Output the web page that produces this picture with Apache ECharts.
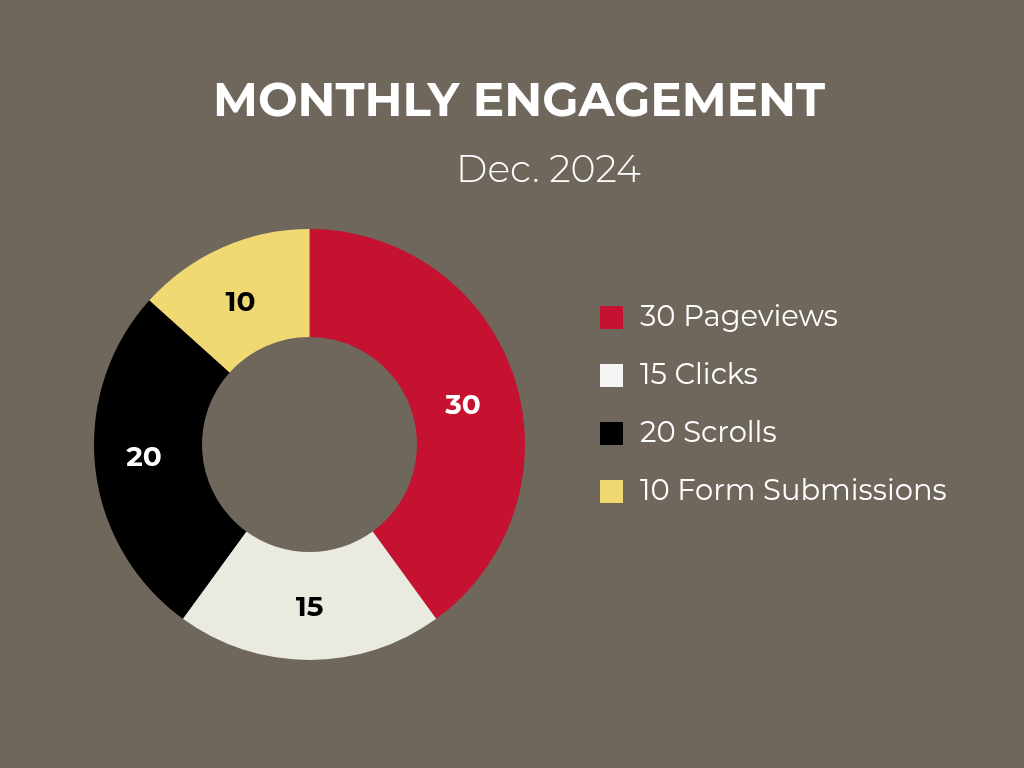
<!DOCTYPE html>
<html>
<head>
<meta charset="utf-8">
<script src="https://cdn.jsdelivr.net/npm/echarts@6/dist/echarts.min.js"></script>
<style>
html,body{margin:0;padding:0;background:#6F675C;}
#chart{width:1024px;height:768px;}
</style>
</head>
<body>
<div id="chart"></div>
<script>
var categories = ['Pageviews', 'Clicks', 'Scrolls', 'Form Submissions'];
var values = [30, 15, 20, 10];
var colors = ['#C41230', '#EBEAE1', '#000000', '#F0D872'];
var legendColors = ['#C41230', '#F5F5F3', '#000000', '#F0D872'];
var labelColors = ['#FFFFFF', '#000000', '#FFFFFF', '#000000'];
var labelOffsets = [[-3, 12], [0, -1], [-2, -4], [-2, 9]];

var chart = echarts.init(document.getElementById('chart'));
var data = categories.map(function (c, i) {
  return {
    name: c, value: values[i],
    itemStyle: { color: colors[i] },
    label: { color: labelColors[i], offset: labelOffsets[i] }
  };
});
chart.setOption({
  backgroundColor: '#6F675C',
  title: [{
    text: 'MONTHLY ENGAGEMENT',
    left: 208, top: 74,
    textStyle: { color: '#FFFFFF', fontFamily: 'Montserrat, "Open Sans", sans-serif', fontWeight: 'bold', fontSize: 47 }
  }, {
    text: 'Dec. 2024',
    left: 451, top: 147,
    textStyle: { color: '#FFFFFF', fontFamily: 'Montserrat, "Open Sans", sans-serif', fontWeight: 300, fontSize: 38 }
  }],
  legend: {
    orient: 'vertical',
    left: 595, top: 298,
    icon: 'rect',
    itemWidth: 23, itemHeight: 23,
    itemGap: 29,
    data: categories.map(function (c, i) { return { name: c, itemStyle: { color: legendColors[i] } }; }),
    formatter: function (name) { return values[categories.indexOf(name)] + ' ' + name; },
    textStyle: { color: '#FFFFFF', fontFamily: 'Montserrat, sans-serif', fontSize: 29, lineHeight: 27, padding: [0, 0, 0, 12] },
    selectedMode: false
  },
  series: [{
    type: 'pie',
    center: [309.5, 444.5],
    radius: [107.5, 215.5],
    startAngle: 90,
    clockwise: true,
    avoidLabelOverlap: false,
    label: {
      show: true, position: 'inside',
      formatter: '{c}',
      fontFamily: 'Montserrat, "Open Sans", sans-serif', fontWeight: 'bold', fontSize: 28
    },
    labelLine: { show: false },
    emphasis: { disabled: true },
    itemStyle: { borderWidth: 0 },
    data: data
  }],
  animation: false
});
</script>
</body>
</html>
